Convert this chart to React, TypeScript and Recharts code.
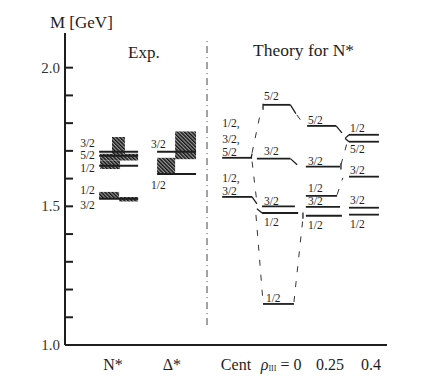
import {
  ComposedChart,
  XAxis,
  YAxis,
  ReferenceLine,
  ReferenceArea,
  Scatter,
} from "recharts";

const FONT = '"Times New Roman", "Liberation Serif", Times, "DejaVu Serif", serif';
const INK = "#1e1e1e";

// mass axis (GeV)
const yTicks = [1.0, 1.1, 1.2, 1.3, 1.4, 1.5, 1.6, 1.7, 1.8, 1.9, 2.0];
const yLabelled = [1.0, 1.5, 2.0];

// bottom labels, x in "column units" (0..10)
const xTicks = [1.49, 3.32, 5.31, 6.71, 8.23, 9.5];
const xTickLabels = ["N*", "Δ*", "Cent", "rho0", "0.25", "0.4"];

// experimental levels: [x1, x2, mass]
const expLevels = [
  [1.06, 2.27, 1.697],
  [1.06, 2.27, 1.682],
  [1.06, 2.27, 1.646],
  [1.06, 2.27, 1.527],
  [2.86, 4.07, 1.697],
  [2.86, 4.07, 1.617],
];

// experimental widths (hatched): [x1, x2, m1, m2]
const expBoxes = [
  [1.46, 1.86, 1.67, 1.75],
  [1.09, 2.27, 1.665, 1.69],
  [1.09, 1.71, 1.635, 1.665],
  [1.06, 1.68, 1.527, 1.552],
  [1.68, 2.27, 1.517, 1.534],
  [3.42, 4.07, 1.67, 1.77],
  [2.86, 3.42, 1.617, 1.675],
];

// theory levels: [x1, x2, mass]
const theoryLevels = [
  // Cent
  [4.88, 5.81, 1.675],
  [4.88, 5.81, 1.534],
  // rho = 0
  [6.15, 7.0, 1.866],
  [5.96, 7.0, 1.672],
  [6.12, 7.14, 1.5],
  [6.12, 7.24, 1.476],
  [6.15, 7.11, 1.148],
  // rho = 0.25
  [7.52, 8.42, 1.79],
  [7.48, 8.54, 1.643],
  [7.48, 8.45, 1.538],
  [7.48, 8.54, 1.498],
  [7.48, 8.6, 1.466],
  // rho = 0.4
  [8.82, 9.75, 1.758],
  [8.82, 9.75, 1.733],
  [8.82, 9.75, 1.607],
  [8.82, 9.75, 1.495],
  [8.82, 9.75, 1.47],
];

// solid connectors: [x1, m1, x2, m2]
const solidLinks = [
  [5.78, 1.675, 5.81, 1.69],
  [6.15, 1.848, 6.15, 1.87],
  [7.0, 1.866, 7.17, 1.834],
  [7.0, 1.672, 7.21, 1.65],
  [5.81, 1.534, 5.96, 1.509],
  [5.96, 1.491, 6.12, 1.476],
  [8.42, 1.79, 8.6, 1.765],
  [8.7, 1.745, 8.82, 1.758],
  [8.7, 1.745, 8.82, 1.733],
  [8.57, 1.633, 8.57, 1.655],
  [7.39, 1.455, 7.39, 1.478],
];

// dashed connectors: [x1, m1, x2, m2]
const dashedLinks = [
  [5.81, 1.693, 6.09, 1.848],
  [5.81, 1.661, 5.96, 1.513],
  [5.93, 1.469, 6.15, 1.155],
  [7.11, 1.155, 7.39, 1.458],
  [7.2, 1.83, 7.42, 1.794],
  [8.57, 1.65, 8.76, 1.729],
  [8.45, 1.542, 8.63, 1.603],
];

const divider = [4.41, 1.072, 4.41, 2.101];

// spin labels: [x, mass, text]
const spinLabels: [number, number, string][] = [
  [0.47, 1.728, "3/2"],
  [0.47, 1.684, "5/2"],
  [0.47, 1.64, "1/2"],
  [0.47, 1.558, "1/2"],
  [0.47, 1.505, "3/2"],
  [2.67, 1.726, "3/2"],
  [2.67, 1.578, "1/2"],
  [4.88, 1.801, "1/2,"],
  [4.88, 1.744, "3/2,"],
  [4.88, 1.697, "5/2"],
  [4.88, 1.603, "1/2,"],
  [4.88, 1.556, "3/2"],
  [6.18, 1.899, "5/2"],
  [6.18, 1.7, "3/2"],
  [6.18, 1.52, "3/2"],
  [6.18, 1.444, "1/2"],
  [6.24, 1.17, "1/2"],
  [7.55, 1.812, "5/2"],
  [7.55, 1.664, "3/2"],
  [7.55, 1.567, "1/2"],
  [7.55, 1.52, "3/2"],
  [7.55, 1.433, "1/2"],
  [8.85, 1.783, "1/2"],
  [8.85, 1.708, "5/2"],
  [8.85, 1.632, "3/2"],
  [8.85, 1.523, "3/2"],
  [8.85, 1.437, "1/2"],
];

const labelData = spinLabels.map(([x, y, t]) => ({ x, y, t }));

function YTick(props: any) {
  const { x, y, payload } = props;
  const show = yLabelled.some((v) => Math.abs(v - payload.value) < 1e-6);
  return (
    <g>
      <line x1={x + 5} x2={x + 13} y1={y} y2={y} stroke={INK} strokeWidth={2} />
      {show && (
        <text
          x={x}
          y={y}
          textAnchor="end"
          dominantBaseline="central"
          fontFamily={FONT}
          fontSize={15}
          fill="#333"
        >
          {payload.value.toFixed(1)}
        </text>
      )}
    </g>
  );
}

function XTick(props: any) {
  const { x, y, index } = props;
  const label = xTickLabels[index];
  const ty = y + 19;
  if (label === "rho0") {
    return (
      <text x={x} y={ty} textAnchor="middle" dominantBaseline="central" fontFamily={FONT} fontSize={16} fill={INK}>
        <tspan fontStyle="italic">ρ</tspan>
        <tspan fontSize={8} dy={4}>III</tspan>
        <tspan dy={-4}> = 0</tspan>
      </text>
    );
  }
  return (
    <text x={x} y={ty} textAnchor="middle" dominantBaseline="central" fontFamily={FONT} fontSize={16} fill={INK}>
      {label}
    </text>
  );
}

function SpinLabel(props: any) {
  const { cx, cy, payload } = props;
  return (
    <text x={cx} y={cy} dominantBaseline="central" fontFamily={FONT} fontSize={11.5} fill={INK}>
      {payload.t}
    </text>
  );
}

const title = (left: number, top: number, size: number) => ({
  position: "absolute" as const,
  left,
  top,
  fontSize: size,
  lineHeight: `${size}px`,
  fontFamily: FONT,
  color: INK,
  whiteSpace: "nowrap" as const,
});

export default function App() {
  return (
    <div style={{ position: "absolute", left: 0, top: 0, width: 428, height: 382, background: "#fff" }}>
      <ComposedChart width={428} height={382} margin={{ top: 33, right: 41, bottom: 0, left: 15 }}>
        <defs>
          <pattern id="hatch" width="2.6" height="2.6" patternUnits="userSpaceOnUse" patternTransform="rotate(-45)">
            <rect x="0" y="0" width="2.6" height="2.6" fill="#9a9a9a" />
            <line x1="0.7" y1="0" x2="0.7" y2="2.6" stroke="#111" strokeWidth={1.4} />
          </pattern>
        </defs>
        <XAxis
          type="number"
          dataKey="x"
          domain={[0, 10]}
          ticks={xTicks}
          tick={<XTick />}
          tickLine={false}
          tickSize={0}
          tickMargin={0}
          interval={0}
          axisLine={{ stroke: INK, strokeWidth: 2 }}
          height={37}
          allowDataOverflow
        />
        <YAxis
          type="number"
          dataKey="y"
          domain={[1, 2.125]}
          ticks={yTicks}
          tick={<YTick />}
          tickLine={false}
          tickSize={0}
          tickMargin={5}
          interval={0}
          axisLine={{ stroke: INK, strokeWidth: 2 }}
          width={50}
          allowDataOverflow
        />
        {expBoxes.map(([x1, x2, y1, y2], i) => (
          <ReferenceArea key={`b${i}`} x1={x1} x2={x2} y1={y1} y2={y2} fill="url(#hatch)" fillOpacity={1} stroke="none" />
        ))}
        {expLevels.map(([x1, x2, m], i) => (
          <ReferenceLine key={`e${i}`} segment={[{ x: x1, y: m }, { x: x2, y: m }]} stroke={INK} strokeWidth={2} />
        ))}
        {theoryLevels.map(([x1, x2, m], i) => (
          <ReferenceLine key={`t${i}`} segment={[{ x: x1, y: m }, { x: x2, y: m }]} stroke={INK} strokeWidth={1.8} />
        ))}
        {solidLinks.map(([x1, y1, x2, y2], i) => (
          <ReferenceLine key={`s${i}`} segment={[{ x: x1, y: y1 }, { x: x2, y: y2 }]} stroke={INK} strokeWidth={1.3} />
        ))}
        {dashedLinks.map(([x1, y1, x2, y2], i) => (
          <ReferenceLine
            key={`d${i}`}
            segment={[{ x: x1, y: y1 }, { x: x2, y: y2 }]}
            stroke="#333"
            strokeWidth={1}
            strokeDasharray="6 9"
          />
        ))}
        <ReferenceLine
          segment={[{ x: divider[0], y: divider[1] }, { x: divider[2], y: divider[3] }]}
          stroke="#444"
          strokeWidth={1}
          strokeDasharray="7 4 1 4"
        />
        <Scatter data={labelData} dataKey="y" shape={<SpinLabel />} isAnimationActive={false} />
      </ComposedChart>
      <div style={title(50, 14, 17)}>M [GeV]</div>
      <div style={title(128, 44, 17)}>Exp.</div>
      <div style={title(253, 42, 17.5)}>Theory for N*</div>
    </div>
  );
}
